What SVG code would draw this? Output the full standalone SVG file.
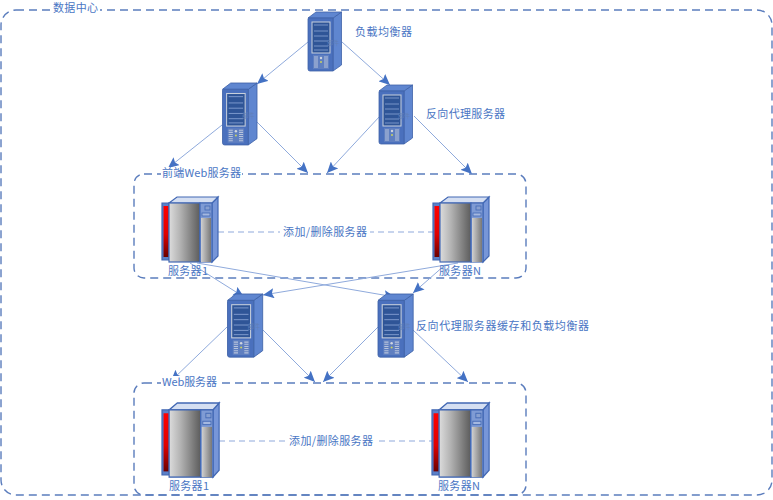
<svg xmlns="http://www.w3.org/2000/svg" xmlns:xlink="http://www.w3.org/1999/xlink" width="773" height="500" viewBox="0 0 773 500">
<style>
text{font-family:"Noto Sans CJK SC","Liberation Sans",sans-serif;font-size:11px;fill:#4a76c4}
.tiny{font-size:6px;fill:#5f7fb8}
.frame{fill:none;stroke:#5b7dbd;stroke-width:1.4;stroke-dasharray:8 5}
.conn{fill:none;stroke:#8faadc;stroke-width:1;marker-end:url(#arr)}
.link{fill:none;stroke:#8faadc;stroke-width:1.2;stroke-dasharray:6 4}
.bg{fill:#fff}
.tw1{fill:#4a70bd;stroke:#3f62a8;stroke-width:.8}
.tw2{fill:#5f86d0;stroke:#3f62a8;stroke-width:.8}
.sv{stroke:#4268b4;stroke-width:1.2}
</style>
<defs>
<marker id="arr" markerUnits="userSpaceOnUse" markerWidth="12" markerHeight="10" refX="11" refY="5" orient="auto"><path d="M0,0L11,5L0,10L2,5Z" fill="#4472c4"/></marker>
<linearGradient id="gm" x1="0" x2="1" y1="0" y2="0"><stop offset="0" stop-color="#dcdcdc"/><stop offset=".35" stop-color="#b4b4b4"/><stop offset="1" stop-color="#5c5c5c"/></linearGradient>
<linearGradient id="gs" x1="0" x2="1" y1="0" y2="0"><stop offset="0" stop-color="#d0d0d0"/><stop offset="1" stop-color="#787878"/></linearGradient>
<linearGradient id="gr" x1="0" x2="0" y1="0" y2="1"><stop offset="0" stop-color="#ff0000"/><stop offset=".55" stop-color="#e00000"/><stop offset="1" stop-color="#6a0000"/></linearGradient>
<g id="tower">
<path class="tw2" d="M25,6L33.500,0V53L25,59Z"/>
<path class="tw2" d="M0,6L8,0H33.500L25,6Z"/>
<path class="tw1" d="M0,7Q0,6 1,6H25V59H2Q0,59 0,57Z"/>
<rect x="4" y="10" width="18" height="31" fill="#2f5597" stroke="#c8d0dc" stroke-width="1"/>
<path d="M6,13H20M6,19H20M6,24H20M6,29H20M6,34H20M6,38H20" stroke="#8aa4d6" stroke-width=".8"/>
<rect x="5" y="43" width="16" height="14" fill="#5f7fc0"/>
<path d="M6,45H10M6,47H10M6,49H10M6,51H10M6,53H10M6,55H10M16,45H20M16,47H20M16,49H20M16,51H20M16,53H20M16,55H20" stroke="#b8c4dc" stroke-width="1"/>
<circle cx="13" cy="46" r="1.200" fill="#d0d6e0"/><circle cx="13" cy="50" r="1" fill="#c8d060"/>
<text class="tiny" x="19" y="33">部件</text>
</g>
<g id="server">
<path class="sv" d="M0,6H7V63H0Z" fill="#5b80c8"/>
<rect x="1.500" y="9" width="5" height="51" fill="url(#gr)"/>
<path class="sv" d="M50,6L56,0V59L50,65Z" fill="#7796d8"/>
<path class="sv" d="M7,6L15,0H56L50,6Z" fill="#d5dff2"/>
<rect class="sv" x="7" y="6" width="31" height="59" fill="url(#gm)"/>
<rect class="sv" x="38" y="6" width="12" height="59" fill="#7f9bd4"/>
<rect x="39" y="21" width="10" height="44" fill="url(#gs)"/>
<rect x="43" y="9" width="5" height="4" fill="#88a0d0" stroke="#4268b4" stroke-width=".8"/>
<rect x="40" y="16" width="8" height="3" fill="#a4b8e0" stroke="#4268b4" stroke-width=".8"/>
</g>
</defs>
<rect width="773" height="500" fill="#fff"/>
<g id="frames">
<rect id="datacenter" class="frame" x="1" y="10" width="771" height="485" rx="15"/>
<rect id="frontend" class="frame" x="134" y="174" width="392" height="104" rx="10"/>
<rect id="web" class="frame" x="134" y="383" width="392" height="112" rx="10"/>
</g>
<g id="connectors">
<path class="conn" d="M308,42L257,84"/>
<path class="conn" d="M342,42L390,85"/>
<path class="conn" d="M222,125L168,168"/>
<path class="conn" d="M257,122L308,173"/>
<path class="conn" d="M380,116L327,173"/>
<path class="conn" d="M414,116L472,174"/>
<path class="conn" d="M190,263L244,297"/>
<path class="conn" d="M197,263L395,297"/>
<path class="conn" d="M458,263L263,295"/>
<path class="conn" d="M445,265L413,293"/>
<path class="conn" d="M227,327L171,381"/>
<path class="conn" d="M263,330L315,382"/>
<path class="conn" d="M378,327L323,382"/>
<path class="conn" d="M413,330L468,382"/>
<path class="link" d="M218,232H433"/>
<path class="link" d="M219,441H433"/>
</g>
<g id="lb-node"><use xlink:href="#tower" href="#tower" transform="translate(308,12)"/><text x="355" y="36" textLength="57">负载均衡器</text></g>
<g id="front-proxy-a"><use href="#tower" transform="translate(222.500,83) scale(1.03,1.05)"/></g>
<g id="front-proxy-b"><use href="#tower" transform="translate(379,85)"/><text x="426" y="118" textLength="79">反向代理服务器</text></g>
<g id="server-front-1"><use href="#server" transform="translate(162,197)"/></g>
<g id="server-front-n"><use href="#server" transform="translate(433,197)"/></g>
<g id="cache-a"><use href="#tower" transform="translate(227.500,294) scale(1.05,1.07)"/></g>
<g id="cache-b"><use href="#tower" transform="translate(378,294) scale(1.05,1.07)"/><text x="416" y="330" textLength="173">反向代理服务器缓存和负载均衡器</text></g>
<g id="server-web-1"><use href="#server" transform="translate(162,403) scale(1.02,1.14)"/></g>
<g id="server-web-n"><use href="#server" transform="translate(432,403) scale(1.02,1.14)"/></g>
<g id="labels">
<rect class="bg" x="51" y="3" width="49" height="14"/><text x="53" y="12" textLength="45">数据中心</text>
<rect class="bg" x="161" y="167" width="81" height="14"/><text x="162" y="177" textLength="79">前端Web服务器</text>
<rect class="bg" x="161" y="376" width="57" height="14"/><text x="162" y="386" textLength="55">Web服务器</text>
<rect class="bg" x="280" y="225" width="90" height="14"/><text x="283" y="236" textLength="84">添加/删除服务器</text>
<rect class="bg" x="286" y="434" width="90" height="14"/><text x="289" y="445" textLength="84">添加/删除服务器</text>
<text x="168" y="275" textLength="40">服务器1</text>
<text x="439" y="275" textLength="42">服务器N</text>
<text x="169" y="490" textLength="40">服务器1</text>
<text x="438" y="490" textLength="42">服务器N</text>
</g>
</svg>
